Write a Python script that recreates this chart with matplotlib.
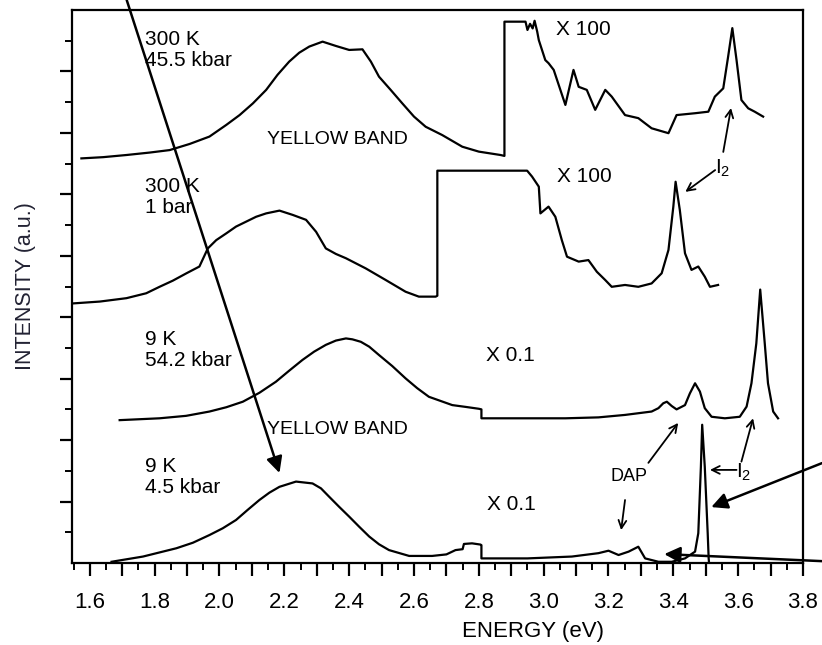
import matplotlib
matplotlib.use("Agg")
import matplotlib.pyplot as plt
from matplotlib.ticker import FixedLocator, FuncFormatter

plt.rcParams['font.family'] = ['Liberation Sans', 'DejaVu Sans']

# ---- spectra (energy in eV, intensity offset in arbitrary units) ----
# 300 K, 45.5 kbar : yellow band, then x100 near-edge part
e_300k_455 = [1.574, 1.641, 1.713, 1.785, 1.846, 1.908, 1.969, 2.021, 2.062, 2.103,
              2.144, 2.179, 2.215, 2.246, 2.277, 2.318, 2.359, 2.400, 2.441, 2.467,
              2.492, 2.528, 2.564, 2.600, 2.636, 2.687, 2.749, 2.800, 2.867, 2.879,
              2.879, 2.938, 2.944, 2.950, 2.958, 2.966, 2.972, 2.980, 2.985, 3.005,
              3.015, 3.031, 3.067, 3.092, 3.108, 3.133, 3.159, 3.190, 3.210, 3.251,
              3.292, 3.333, 3.385, 3.410, 3.467, 3.508, 3.528, 3.554, 3.569, 3.582,
              3.595, 3.610, 3.631, 3.651, 3.677]
i_300k_455 = [13.17, 13.21, 13.28, 13.36, 13.44, 13.64, 13.88, 14.26, 14.58, 14.96,
              15.40, 15.89, 16.32, 16.61, 16.81, 16.97, 16.83, 16.70, 16.72, 16.32,
              15.83, 15.40, 14.96, 14.53, 14.20, 13.93, 13.55, 13.39, 13.28, 13.25,
              17.62, 17.62, 17.62, 17.35, 17.55, 17.40, 17.65, 17.30, 17.02, 16.37,
              16.27, 16.05, 14.91, 16.05, 15.50, 15.40, 14.75, 15.40, 15.18, 14.58,
              14.48, 14.15, 13.99, 14.58, 14.64, 14.69, 15.18, 15.45, 16.48, 17.41,
              16.37, 15.07, 14.80, 14.69, 14.53]

# 300 K, 1 bar
e_300k_1 = [1.549, 1.631, 1.713, 1.774, 1.815, 1.856, 1.898, 1.938, 1.964, 1.990,
            2.021, 2.051, 2.082, 2.113, 2.144, 2.185, 2.226, 2.267, 2.298, 2.328,
            2.359, 2.390, 2.451, 2.513, 2.574, 2.615, 2.667, 2.672, 2.672, 2.949,
            2.964, 2.985, 2.990, 3.015, 3.036, 3.056, 3.072, 3.108, 3.138, 3.164,
            3.190, 3.210, 3.251, 3.292, 3.333, 3.364, 3.385, 3.400, 3.407, 3.420,
            3.436, 3.456, 3.477, 3.497, 3.513, 3.538]
i_300k_1 = [8.45, 8.51, 8.62, 8.78, 8.99, 9.19, 9.43, 9.65, 10.24, 10.51,
            10.73, 10.95, 11.11, 11.27, 11.38, 11.47, 11.33, 11.17, 10.78, 10.24,
            10.06, 9.92, 9.59, 9.21, 8.83, 8.67, 8.67, 8.70, 12.77, 12.77,
            12.58, 12.25, 11.38, 11.60, 11.27, 10.51, 9.97, 9.81, 9.86, 9.48,
            9.21, 8.99, 9.05, 8.99, 9.10, 9.43, 10.19, 11.60, 12.41, 11.49,
            10.08, 9.54, 9.65, 9.32, 8.99, 9.05]

# 9 K, 54.2 kbar
e_9k_542 = [1.692, 1.815, 1.897, 1.969, 2.021, 2.072, 2.123, 2.174, 2.215, 2.256,
            2.292, 2.328, 2.359, 2.390, 2.410, 2.436, 2.462, 2.492, 2.533, 2.574,
            2.610, 2.646, 2.718, 2.760, 2.800, 2.808, 2.808, 3.067, 3.169, 3.251,
            3.333, 3.354, 3.369, 3.380, 3.395, 3.410, 3.436, 3.451, 3.467, 3.482,
            3.497, 3.518, 3.559, 3.605, 3.626, 3.641, 3.656, 3.668, 3.682, 3.692,
            3.708, 3.723]
i_9k_542 = [4.65, 4.71, 4.79, 4.93, 5.07, 5.25, 5.54, 5.90, 6.26, 6.61,
            6.88, 7.10, 7.24, 7.31, 7.28, 7.20, 7.04, 6.77, 6.41, 6.01,
            5.69, 5.41, 5.14, 5.08, 5.02, 5.00, 4.71, 4.71, 4.74, 4.82,
            4.93, 5.04, 5.20, 5.25, 5.11, 5.00, 5.14, 5.52, 5.85, 5.58,
            5.04, 4.76, 4.71, 4.76, 5.09, 5.85, 7.15, 8.90, 7.15, 5.85,
            4.93, 4.71]

# 9 K, 4.5 kbar
e_9k_45 = [1.667, 1.764, 1.867, 1.918, 1.969, 2.010, 2.051, 2.087, 2.123, 2.154,
           2.185, 2.236, 2.287, 2.313, 2.338, 2.369, 2.400, 2.431, 2.462, 2.492,
           2.523, 2.585, 2.656, 2.700, 2.728, 2.750, 2.754, 2.779, 2.805, 2.808,
           2.808, 2.950, 3.087, 3.169, 3.200, 3.231, 3.262, 3.292, 3.313, 3.354,
           3.395, 3.436, 3.467, 3.477, 3.485, 3.489, 3.497, 3.506, 3.509, 3.510]
i_9k_45 = [0.04, 0.21, 0.48, 0.66, 0.91, 1.13, 1.40, 1.73, 2.05, 2.29,
           2.48, 2.65, 2.59, 2.43, 2.16, 1.83, 1.51, 1.18, 0.86, 0.61,
           0.42, 0.23, 0.23, 0.28, 0.42, 0.45, 0.62, 0.64, 0.60, 0.58,
           0.15, 0.15, 0.21, 0.32, 0.40, 0.26, 0.37, 0.53, 0.15, 0.04,
           0.04, 0.15, 0.37, 0.97, 3.13, 4.50, 3.13, 0.97, 0.15, 0.02]

energy_ticks = [1.6, 1.8, 2.0, 2.2, 2.4, 2.6, 2.8, 3.0, 3.2, 3.4, 3.6, 3.8]
energy_tick_labels = ["1.6", "1.8", "2.0", "2.2", "2.4", "2.6", "2.8",
                      "3.0", "3.2", "3.4", "3.6", "3.8"]

fig = plt.figure(figsize=(8.22, 6.45), dpi=100)
ax = fig.add_axes([72 / 822, 82 / 645, 731 / 822, 553 / 645])

lw = 1.6
for e, i in [(e_300k_455, i_300k_455), (e_300k_1, i_300k_1),
             (e_9k_542, i_9k_542), (e_9k_45, i_9k_45)]:
    ax.plot(e, i, color='black', lw=lw, solid_joinstyle='round')

ax.set_xlim(1.545, 3.80)
ax.set_ylim(0, 18)

# axis ticks
major_x = [round(1.6 + 0.1 * k, 2) for k in range(23)]
minor_x = [round(1.55 + 0.1 * k, 2) for k in range(23)]
label_map = dict(zip(energy_ticks, energy_tick_labels))
ax.xaxis.set_major_locator(FixedLocator(major_x))
ax.xaxis.set_minor_locator(FixedLocator(minor_x))
ax.xaxis.set_major_formatter(FuncFormatter(
    lambda v, p: label_map.get(round(v, 1), "")))
ax.yaxis.set_major_locator(FixedLocator(list(range(2, 18, 2))))
ax.yaxis.set_minor_locator(FixedLocator(list(range(1, 18, 2))))
ax.yaxis.set_major_formatter(FuncFormatter(lambda v, p: ""))

ax.tick_params(axis='both', which='major', direction='out', length=9,
               width=1.6, color='black')
ax.tick_params(axis='both', which='minor', direction='out', length=5,
               width=1.4, color='black')
ax.tick_params(axis='x', which='major', labelsize=16, pad=12)
for s in ax.spines.values():
    s.set_linewidth(1.6)
    s.set_color('black')

ax.set_xlabel("ENERGY (eV)", fontsize=16)
ax.xaxis.set_label_coords(0.63, -0.105)
ax.set_ylabel("INTENSITY (a.u.)", fontsize=15.5, color='#222233')
ax.yaxis.set_label_coords(-0.049, 0.5)

# ---- labels inside the plot ----
tfs = 15
ax.text(1.769, 17.35, "300 K\n45.5 kbar", fontsize=tfs, va='top', ha='left',
        linespacing=1.15)
ax.text(1.769, 12.57, "300 K\n1 bar", fontsize=tfs, va='top', ha='left',
        linespacing=1.15)
ax.text(1.769, 7.58, "9 K\n54.2 kbar", fontsize=tfs, va='top', ha='left',
        linespacing=1.15)
ax.text(1.769, 3.45, "9 K\n4.5 kbar", fontsize=tfs, va='top', ha='left',
        linespacing=1.15)
ax.text(2.148, 13.77, "YELLOW BAND", fontsize=14, va='center', ha='left')
ax.text(2.148, 4.33, "YELLOW BAND", fontsize=14, va='center', ha='left')
ax.text(3.037, 17.35, "X 100", fontsize=tfs, va='center', ha='left')
ax.text(3.040, 12.57, "X 100", fontsize=tfs, va='center', ha='left')
ax.text(2.822, 6.77, "X 0.1", fontsize=tfs, va='center', ha='left')
ax.text(2.825, 1.89, "X 0.1", fontsize=tfs, va='center', ha='left')
ax.text(3.206, 2.80, "DAP", fontsize=13, va='center', ha='left')
ax.text(3.530, 12.86, r"$\mathregular{I_2}$", fontsize=tfs, va='center', ha='left')
ax.text(3.594, 2.96, r"$\mathregular{I_2}$", fontsize=tfs, va='center', ha='left')

small = dict(arrowstyle='->', lw=1.3, color='black', mutation_scale=14,
             shrinkA=0, shrinkB=0)
for tail, head in [((3.554, 13.38), (3.578, 14.81)),
                   ((3.529, 12.79), (3.437, 12.08)),
                   ((3.323, 3.26), (3.415, 4.56)),
                   ((3.251, 2.05), (3.239, 1.07)),
                   ((3.595, 3.03), (3.513, 3.03)),
                   ((3.610, 3.30), (3.646, 4.71))]:
    ax.annotate("", xy=head, xytext=tail, arrowprops=small)

# ---- pointer arrows drawn over the figure ----
big = dict(arrowstyle='-|>', lw=1.8, color='black', mutation_scale=24,
           shrinkA=0, shrinkB=0)
ax.annotate("", xy=(2.185, 2.93), xycoords='data',
            xytext=(126.7 / 822, 1.0), textcoords='figure fraction',
            arrowprops=big, annotation_clip=False)
ax.annotate("", xy=(3.517, 1.82), xycoords='data',
            xytext=(1.0, 0.282), textcoords='figure fraction',
            arrowprops=big, annotation_clip=False)
ax.annotate("", xy=(3.372, 0.29), xycoords='data',
            xytext=(1.0, 0.130), textcoords='figure fraction',
            arrowprops=big, annotation_clip=False)

fig.savefig("out.png", dpi=100, facecolor='white')
